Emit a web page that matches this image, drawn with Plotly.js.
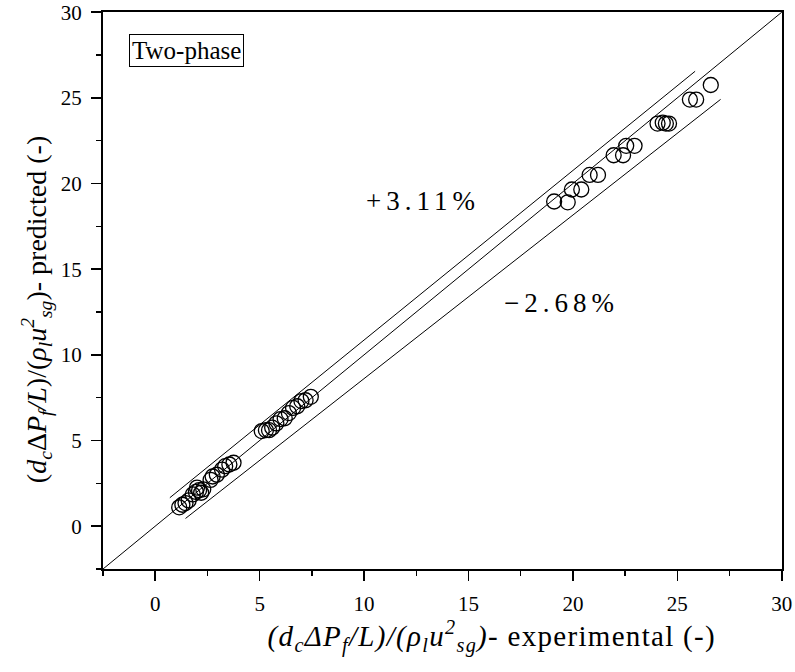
<!DOCTYPE html>
<html>
<head>
<meta charset="utf-8">
<script src="https://cdn.plot.ly/plotly-3.0.1.min.js"></script>
<style>
  html, body { margin: 0; padding: 0; background: #fff; }
  #chart { width: 795px; height: 672px; }
  /* widely tracked percentage labels */
  .annotation[data-index="0"] .annotation-text,
  .annotation[data-index="1"] .annotation-text { letter-spacing: 5px; }
  /* slightly tracked x-axis caption */
  .annotation[data-index="3"] .annotation-text { letter-spacing: 1.3px; }
</style>
</head>
<body>
<div id="chart"></div>
<script>
// Friction-factor group: experimental vs predicted, two-phase runs
const experimental = [
  1.15, 1.3, 1.45, 1.6, 1.8, 1.95, 2.1, 2.2, 2.3, 2.0,
  2.65, 2.75, 2.95, 3.2, 3.35, 3.55, 3.75,
  5.1, 5.3, 5.45, 5.6, 5.8, 6.0, 6.2, 6.4, 6.6, 6.8, 7.0, 7.2, 7.45,
  19.1, 19.75, 19.95, 20.4, 20.8, 21.2, 21.95, 22.4, 22.55, 22.95,
  24.05, 24.3, 24.45, 24.6, 25.6, 25.9, 26.6
];
const predicted = [
  1.1, 1.25, 1.35, 1.5, 1.85, 2.0, 2.1, 1.95, 2.15, 2.25,
  2.7, 2.9, 3.0, 3.3, 3.5, 3.6, 3.7,
  5.55, 5.6, 5.6, 5.75, 6.0, 6.25, 6.3, 6.6, 6.9, 7.0, 7.3, 7.35, 7.55,
  18.95, 18.9, 19.65, 19.65, 20.5, 20.5, 21.65, 21.65, 22.2, 22.2,
  23.5, 23.55, 23.5, 23.5, 24.9, 24.9, 25.75
];

// Parity line and the upper / lower deviation bounds
const parityX = [-2.5, 30];
const parityY = [-2.5, 30];
const upperX = [0.7, 25.85];
const upperY = [1.66, 26.55];
const lowerX = [1.45, 27.07];
const lowerY = [0.45, 24.91];

const upperLabel = "+3.11%";
const lowerLabel = "\u22122.68%";
const caseLabel = "Two-phase";
const xTitle = "<i>(d<sub>c</sub>\u0394P<sub>f</sub>/L)/(\u03c1<sub>l</sub>u<sup>2</sup><sub>sg</sub>)</i>- experimental (-)";
const yTitle = "(<i>d<sub>c</sub></i>\u0394<i>P<sub>f</sub>/L</i>)/(<i>\u03c1<sub>l</sub>u<sup>2</sup><sub>sg</sub></i>)- predicted (-)";

const serif = "Liberation Serif";
const thinLine = { color: "#000", width: 1 };

const traces = [
  { x: parityX, y: parityY, mode: "lines", line: thinLine, hoverinfo: "skip" },
  { x: upperX, y: upperY, mode: "lines", line: thinLine, hoverinfo: "skip" },
  { x: lowerX, y: lowerY, mode: "lines", line: thinLine, hoverinfo: "skip" },
  {
    x: experimental, y: predicted, mode: "markers",
    marker: { symbol: "circle-open", size: 15, color: "#000", line: { width: 1.3 } }
  }
];

function axis() {
  return {
    range: [-2.5, 30.01],
    tick0: 0, dtick: 5,
    ticks: "outside", ticklen: 10, tickwidth: 1.5, tickcolor: "#000",
    ticklabelstandoff: 5,
    minor: { dtick: 2.5, ticks: "outside", ticklen: 5, tickwidth: 1.5, tickcolor: "#000" },
    showline: true, linewidth: 2, linecolor: "#000", mirror: true,
    showgrid: false, zeroline: false,
    tickfont: { family: serif, size: 21, color: "#000" }
  };
}

const layout = {
  width: 795, height: 672,
  margin: { l: 103, r: 13, t: 12, b: 103 },
  paper_bgcolor: "#fff", plot_bgcolor: "rgba(0,0,0,0)",
  font: { family: serif, color: "#000" },
  showlegend: false,
  xaxis: axis(),
  yaxis: axis(),
  annotations: [
    { x: 12.84, y: 19.0, xref: "x", yref: "y", text: upperLabel, showarrow: false,
      font: { family: serif, size: 27, color: "#000" } },
    { x: 19.43, y: 13.04, xref: "x", yref: "y", text: lowerLabel, showarrow: false,
      font: { family: serif, size: 27, color: "#000" } },
    { x: 1.48, y: 27.78, xref: "x", yref: "y", text: caseLabel, showarrow: false,
      font: { family: serif, size: 25, color: "#000" },
      bordercolor: "#000", borderwidth: 1, borderpad: 2, bgcolor: "#fff" },
    { x: 0.573, y: -0.122, xref: "paper", yref: "paper", text: xTitle, showarrow: false,
      xanchor: "center", yanchor: "middle",
      font: { family: serif, size: 29, color: "#000" } },
    { x: -0.097, y: 0.465, xref: "paper", yref: "paper", text: yTitle, showarrow: false,
      textangle: -90, xanchor: "center", yanchor: "middle",
      font: { family: serif, size: 28, color: "#000" } }
  ]
};

Plotly.newPlot("chart", traces, layout, { displayModeBar: false, staticPlot: true });
</script>
</body>
</html>
